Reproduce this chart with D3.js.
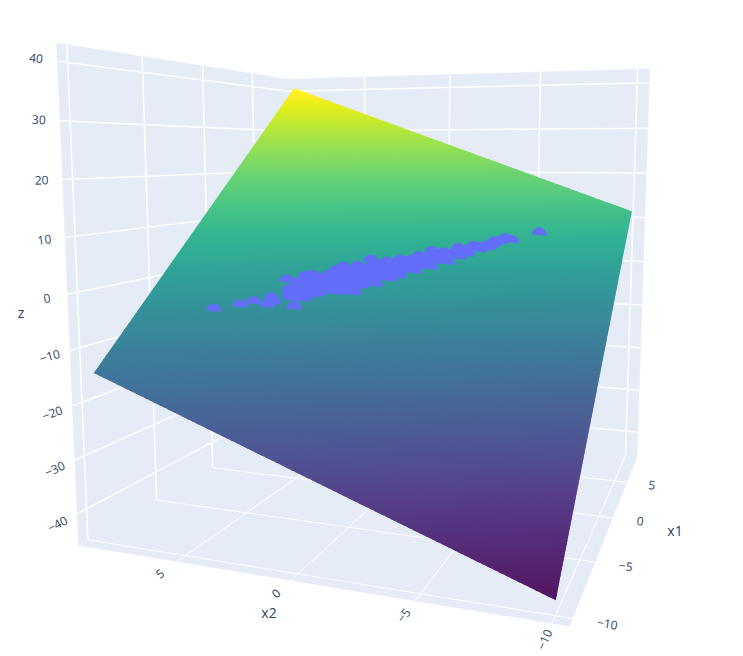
<!DOCTYPE html>
<html>
<head>
<meta charset="utf-8">
<script src="https://cdn.jsdelivr.net/npm/d3@7"></script>
<style>
  html, body { margin: 0; padding: 0; background: #fff; }
  svg { display: block; }
  text { font-family: "Open Sans", sans-serif; fill: #2a3f5f; }
</style>
</head>
<body>
<script>
// Axis ranges and ticks
var x1Range = [-10.6, 9.3];
var x2Range = [-10.6, 9.75];
var zRange = [-45.9, 43];
var x1Ticks = [-10, -5, 0, 5];
var x2Ticks = [-10, -5, 0, 5];
var zTicks = [-40, -30, -20, -10, 0, 10, 20, 30, 40];

// Regression surface, 2x2 grid
var surfaceX1 = [-10, 8.7];
var surfaceX2 = [-10, 9.1];
var surfaceZ = [[-43.4, -14.4], [11.5, 40.5]];

// Scatter points
var pointsX1 = [-5.48, -4.79, -4.41, -3.89, -4.27, -4.02, -3.86, -2.76, -3.16, -3.35, -3.29, -2.22, -2.04, -1.64, -1.01, -0.66, -0.08, -0.01, 0.54, 0.72, 1.12, 1.65, 1.83, 2.41, 2.82, 3.04, 3.50, 3.95, 4.01, 5.07,
  -2.59, -2.33, -2.14, -2.01, -1.18, -0.61, -0.28, 0.25, 0.84, 1.42, 1.93, 2.29, 2.76, 3.13, 3.52, -3.09,
  -2.54, -2.85, -2.32, -2.60, -2.01, -2.31, -1.77, -2.12, -1.44, -1.73, -2.01, -1.22, -1.54, -1.86, -1.02, -1.37, -1.69, -0.68, -0.96, -1.25, -0.37, -0.71, -0.98, -0.34, -0.67, 0.01, -0.33, 0.27, 0.00, 0.51, 0.30, 0.86, 0.60, 1.21, 0.95, 1.47, 1.21, 1.63, 1.92, 2.15, 2.46, 2.71, 2.97, 3.30, 3.71,
  -3.00, -2.67, -3.17, -3.00, -2.80, -2.09, -1.76, -1.35, -1.41, -1.16, -1.06, -3.54, -3.45, -2.50, -2.56, -2.38, -2.29, -2.15, -2.01, -1.53, -1.20, -0.82, -0.53, -0.17, 0.20, 0.69, 1.02, -0.37, 0.19, 0.13];
var pointsX2 = [6.16, 5.24, 4.78, 4.17, 4.16, 3.99, 3.06, 3.95, 3.63, 3.53, 2.84, 3.29, 3.00, 2.30, 1.90, 1.33, 0.91, 0.30, -0.33, -0.77, -1.04, -1.53, -2.06, -2.63, -3.26, -3.70, -4.15, -4.54, -4.86, -5.99,
  2.29, 1.67, 1.26, 0.95, 0.23, -0.29, -0.58, -1.13, -1.75, -2.39, -2.81, -3.12, -3.56, -3.96, -4.10, 3.30,
  3.14, 3.00, 2.83, 2.70, 2.55, 2.42, 2.24, 2.09, 1.97, 1.85, 1.72, 1.65, 1.51, 1.38, 1.32, 1.17, 1.04, 1.04, 0.92, 0.80, 0.74, 0.61, 0.50, 0.34, 0.21, -0.03, -0.15, -0.43, -0.53, -0.84, -0.91, -1.13, -1.22, -1.43, -1.52, -1.76, -1.85, -2.12, -2.45, -2.71, -3.03, -3.37, -3.72, -4.04, -4.35,
  3.51, 3.42, 3.00, 2.65, 2.41, 2.66, 2.39, 2.15, 1.69, 1.38, 1.00, 3.43, 3.16, 2.89, 2.43, 2.09, 1.70, 1.42, 1.06, 0.77, 0.50, 0.25, -0.05, -0.39, -0.73, -0.93, -1.20, 0.21, -0.13, 0.19];
var pointsZ = [-5.6, -5.0, -4.5, -3.9, -5.1, -4.6, -5.5, -1.0, -2.6, -3.3, -4.2, -0.4, -0.3, -0.2, 1.1, 1.2, 2.3, 1.6, 2.2, 2.1, 2.8, 3.7, 3.4, 4.2, 4.5, 4.5, 5.1, 5.9, 5.5, 6.9,
  -3.0, -3.2, -3.2, -3.3, -2.0, -1.1, -0.6, 0.2, 0.9, 1.7, 2.6, 3.1, 3.9, 4.3, 5.3, -2.9,
  -1.5, -2.7, -1.4, -2.4, -0.9, -2.0, -0.6, -1.9, -0.1, -1.1, -2.1, 0.1, -1.1, -2.2, 0.2, -1.1, -2.3, 0.7, -0.3, -1.3, 1.2, 0.0, -1.0, 0.7, -0.5, 1.1, -0.1, 1.3, 0.3, 1.4, 0.6, 1.9, 1.0, 2.5, 1.6, 2.8, 1.9, 2.7, 3.1, 3.3, 3.8, 4.0, 4.2, 4.7, 5.4,
  -2.3, -1.5, -3.6, -3.6, -3.4, -0.9, -0.4, 0.5, -0.4, -0.1, -0.4, -4.0, -4.2, -1.8, -2.7, -2.7, -3.0, -3.0, -3.1, -2.2, -1.6, -0.9, -0.5, 0.1, 0.7, 1.8, 2.4, 0.4, 1.5, 1.9];

var svgWidth = 743;
var svgHeight = 656;

var svg = d3.select("body").append("svg")
  .attr("width", svgWidth)
  .attr("height", svgHeight);

// Data to unit cube
var xScale1 = d3.scaleLinear().domain(x1Range).range([0, 1]);
var xScale2 = d3.scaleLinear().domain(x2Range).range([0, 1]);
var zScale = d3.scaleLinear().domain(zRange).range([0, 1]);

// Camera is fitted to where the box and its grid sit in the picture
var x1Lo = x1Range[0], x1Hi = x1Range[1];
var x2Lo = x2Range[0], x2Hi = x2Range[1];
var zLo = zRange[0], zHi = zRange[1];
var anchors = [
  [x1Lo, x2Hi, zLo, 79, 545], [x1Lo, x2Hi, zHi, 57, 43], [x1Lo, x2Lo, zLo, 571, 626],
  [x1Hi, x2Lo, zLo, 637, 456], [x1Hi, x2Lo, zHi, 650, 70], [x1Hi, x2Hi, zHi, 290, 79],
  [-10, x2Hi, 40, 68, 62], [-5, x2Hi, 40, 142, 72], [0, x2Hi, 40, 202, 80], [5, x2Hi, 40, 252, 87],
  [-10, x2Hi, zLo, 88, 540], [-5, x2Hi, zLo, 157, 501], [0, x2Hi, zLo, 212, 468], [x1Lo, x2Hi, 0, 68, 295],
  [x1Hi, -10, 40, 637, 83], [x1Hi, -5, 40, 540, 85], [x1Hi, 0, 40, 449, 87], [x1Hi, -10, zLo, 626, 456],
  [x1Hi, x2Lo, 0, 644, 261], [-10, -10, zLo, 555, 616], [-5, x2Lo, zLo, 595, 563], [0, x2Lo, zLo, 612, 518],
  [5, x2Lo, zLo, 626, 482], [x1Lo, 5, zLo, 177, 561], [x1Lo, 0, zLo, 290, 579]
];

// least squares for the 3x4 projection matrix
function fitCamera(rows) {
  var n = 11;
  var ata = d3.range(n).map(() => d3.range(n + 1).map(() => 0));
  function addRow(r, b) {
    for (var i = 0; i < n; i++) {
      for (var j = 0; j < n; j++) ata[i][j] += r[i] * r[j];
      ata[i][n] += r[i] * b;
    }
  }
  rows.forEach(function(a) {
    var u = xScale1(a[0]), v = xScale2(a[1]), w = zScale(a[2]);
    addRow([u, v, w, 1, 0, 0, 0, 0, -a[3] * u, -a[3] * v, -a[3] * w], a[3]);
    addRow([0, 0, 0, 0, u, v, w, 1, -a[4] * u, -a[4] * v, -a[4] * w], a[4]);
  });
  for (var c = 0; c < n; c++) {
    var piv = c;
    for (var r = c + 1; r < n; r++) if (Math.abs(ata[r][c]) > Math.abs(ata[piv][c])) piv = r;
    var tmp = ata[c]; ata[c] = ata[piv]; ata[piv] = tmp;
    for (var r2 = 0; r2 < n; r2++) {
      if (r2 === c) continue;
      var f = ata[r2][c] / ata[c][c];
      for (var k = c; k <= n; k++) ata[r2][k] -= f * ata[c][k];
    }
  }
  var m = ata.map((row, i) => row[n] / row[i]);
  m.push(1);
  return m;
}
var cam = fitCamera(anchors);

function project(x1, x2, z) {
  var u = xScale1(x1), v = xScale2(x2), w = zScale(z);
  var d = cam[8] * u + cam[9] * v + cam[10] * w + cam[11];
  return [
    (cam[0] * u + cam[1] * v + cam[2] * w + cam[3]) / d,
    (cam[4] * u + cam[5] * v + cam[6] * w + cam[7]) / d
  ];
}

var line = d3.line();
function polygon3d(pts) {
  return line(pts.map(p => project(p[0], p[1], p[2]))) + "Z";
}

// Walls and floor
var wallColor = "#e5ecf6";
var faces = [
  [[x1Lo, x2Hi, zLo], [x1Lo, x2Hi, zHi], [x1Hi, x2Hi, zHi], [x1Hi, x2Hi, zLo]],
  [[x1Hi, x2Hi, zLo], [x1Hi, x2Hi, zHi], [x1Hi, x2Lo, zHi], [x1Hi, x2Lo, zLo]],
  [[x1Lo, x2Hi, zLo], [x1Lo, x2Lo, zLo], [x1Hi, x2Lo, zLo], [x1Hi, x2Hi, zLo]]
];
svg.append("g").selectAll("path").data(faces).enter().append("path")
  .attr("d", polygon3d)
  .attr("fill", wallColor)
  .attr("stroke", wallColor)
  .attr("stroke-width", 0.5);

// Grid lines
var gridLines = [];
x1Ticks.forEach(function(t) {
  gridLines.push({ a: [t, x2Hi, zLo], b: [t, x2Hi, zHi], w: 1.5 });
  gridLines.push({ a: [t, x2Lo, zLo], b: [t, x2Hi, zLo], w: 1 });
});
x2Ticks.forEach(function(t) {
  gridLines.push({ a: [x1Hi, t, zLo], b: [x1Hi, t, zHi], w: 1.5 });
  gridLines.push({ a: [x1Lo, t, zLo], b: [x1Hi, t, zLo], w: 1 });
});
zTicks.forEach(function(t) {
  gridLines.push({ a: [x1Lo, x2Hi, t], b: [x1Hi, x2Hi, t], w: 1.5 });
  gridLines.push({ a: [x1Hi, x2Hi, t], b: [x1Hi, x2Lo, t], w: 1.5 });
});
svg.append("g").selectAll("line").data(gridLines).enter().append("line")
  .attr("x1", d => project(d.a[0], d.a[1], d.a[2])[0])
  .attr("y1", d => project(d.a[0], d.a[1], d.a[2])[1])
  .attr("x2", d => project(d.b[0], d.b[1], d.b[2])[0])
  .attr("y2", d => project(d.b[0], d.b[1], d.b[2])[1])
  .attr("stroke", "#fff")
  .attr("stroke-width", d => d.w);

// Surface as thin strips of equal height, each one running a little under
// the next so no seams show. Longer overlaps would roughen the outer edge.
var surfCorners = [
  [surfaceX1[0], surfaceX2[0], surfaceZ[0][0]],
  [surfaceX1[1], surfaceX2[0], surfaceZ[1][0]],
  [surfaceX1[1], surfaceX2[1], surfaceZ[1][1]],
  [surfaceX1[0], surfaceX2[1], surfaceZ[0][1]]
];
var surfMin = d3.min(surfCorners, d => d[2]);
var surfMax = d3.max(surfCorners, d => d[2]);
var colorScale = d3.scaleSequential(d3.interpolateViridis).domain([surfMin, surfMax]);

// the surface lighting washes the colours out low down and brightens them up top
function litColor(z) {
  var t = (z - surfMin) / (surfMax - surfMin);
  var washed = d3.interpolateRgb(colorScale(z), "#f0f6ff")(0.08 * Math.min(1, (1 - t) / 0.3));
  return d3.color(washed).brighter(0.14 * t).formatHex();
}

// sign 1 keeps what is above the level, -1 what is below
function clipLevel(poly, level, sign) {
  var out = [];
  poly.forEach(function(p, i) {
    var q = poly[(i + 1) % poly.length];
    var pIn = sign * (p[2] - level) >= 0;
    var qIn = sign * (q[2] - level) >= 0;
    if (pIn) out.push(p);
    if (pIn !== qIn) {
      var t = (level - p[2]) / (q[2] - p[2]);
      out.push([p[0] + t * (q[0] - p[0]), p[1] + t * (q[1] - p[1]), level]);
    }
  });
  return out;
}
var bandCount = 256;
var bandStep = (surfMax - surfMin) / bandCount;
var levels = d3.range(0, bandCount).map(i => surfMin + bandStep * i);
svg.append("g").selectAll("path").data(levels).enter().append("path")
  .attr("d", d => polygon3d(clipLevel(clipLevel(surfCorners, d, 1), d + bandStep * 1.6, -1)))
  .attr("fill", d => litColor(d + bandStep / 2));

// Markers: only the half above the surface shows
var halfDisc = d3.arc().innerRadius(0).outerRadius(7.6)
  .startAngle(-Math.PI / 2).endAngle(Math.PI / 2);
svg.append("g").selectAll("path").data(pointsX1).enter().append("path")
  .attr("d", halfDisc())
  .attr("transform", function(d, i) {
    var p = project(pointsX1[i], pointsX2[i], pointsZ[i]);
    return `translate(${p[0]}, ${p[1]}) rotate(5)`;
  })
  .attr("fill", "#636efa");

// Tick labels sit past the edge of the box, turned along their grid line
var labelPad = 1.2;
function addLabels(ticks, outer, inner) {
  svg.append("g").selectAll("text").data(ticks).enter().append("text")
    .attr("text-anchor", "middle")
    .attr("dy", "0.35em")
    .attr("font-size", 12)
    .attr("transform", function(d) {
      var a = project.apply(null, outer(d));
      var b = project.apply(null, inner(d));
      var angle = Math.atan2(b[1] - a[1], b[0] - a[0]) * 180 / Math.PI;
      // keep the text upright
      if (angle > 90) angle -= 180;
      if (angle < -90) angle += 180;
      return `translate(${a[0]}, ${a[1]}) rotate(${angle})`;
    })
    .text(d => String(d).replace("-", "\u2212"));
}
addLabels(zTicks, d => [x1Lo - labelPad, x2Hi, d], d => [x1Lo, x2Hi, d]);
addLabels(x2Ticks, d => [x1Lo - labelPad, d, zLo], d => [x1Lo, d, zLo]);
addLabels(x1Ticks, d => [d, x2Lo - labelPad, zLo], d => [d, x2Lo, zLo]);

// Axis titles
var titles = [["x1", 675, 531], ["x2", 269, 613], ["z", 21, 313]];
svg.append("g").selectAll("text").data(titles).enter().append("text")
  .attr("x", d => d[1])
  .attr("y", d => d[2])
  .attr("dy", "0.35em")
  .attr("text-anchor", "middle")
  .attr("font-size", 14)
  .text(d => d[0]);
</script>
</body>
</html>
